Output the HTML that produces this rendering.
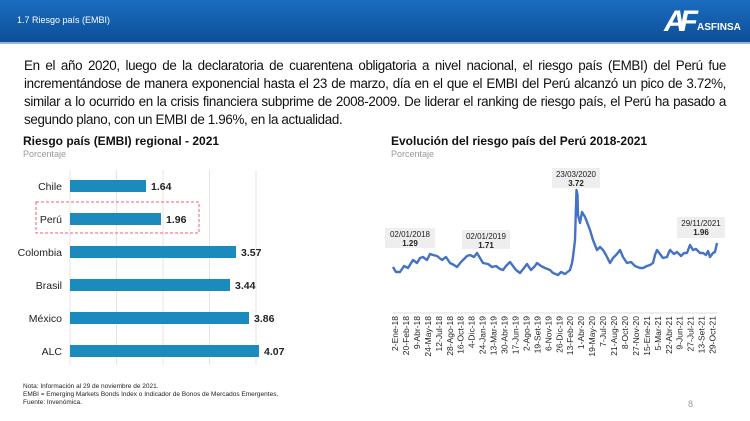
<!DOCTYPE html>
<html><head><meta charset="utf-8"><style>
body{margin:0;width:750px;height:421px;background:#fff;font-family:"Liberation Sans",sans-serif;position:relative;overflow:hidden}
.hdr{position:absolute;left:0;top:0;width:750px;height:42px;background:linear-gradient(#1a6cc0,#0d4f98);border-bottom:2px solid #9ab6d6}
.l{position:absolute;left:24px;width:702px;font-size:13.4px;letter-spacing:-0.35px;color:#111;text-align:justify;text-align-last:justify;white-space:nowrap}
.l.last{text-align-last:left}
</style></head><body>
<div class="hdr"></div>
<div style="position:absolute;left:17px;top:15px;font-size:9px;color:#fff">1.7 Riesgo país (EMBI)</div>
<div style="position:absolute;left:664px;top:5px;font-size:30px;font-weight:bold;color:#fff;letter-spacing:-6px;font-style:italic">AF</div>
<div style="position:absolute;left:697px;top:22px;font-size:10px;font-weight:bold;color:#fff">ASFINSA</div>
<div class="l" style="top:58px">En el año 2020, luego de la declaratoria de cuarentena obligatoria a nivel nacional, el riesgo país (EMBI) del Perú fue</div>
<div class="l" style="top:76px">incrementándose de manera exponencial hasta el 23 de marzo, día en el que el EMBI del Perú alcanzó un pico de 3.72%,</div>
<div class="l" style="top:94px">similar a lo ocurrido en la crisis financiera subprime de 2008-2009. De liderar el ranking de riesgo país, el Perú ha pasado a</div>
<div class="l last" style="top:112px">segundo plano, con un EMBI de 1.96%, en la actualidad.</div>
<svg width="750" height="421" style="position:absolute;left:0;top:0" font-family="Liberation Sans, sans-serif">
<text x="23" y="145" font-size="12" font-weight="bold" fill="#111">Riesgo país (EMBI) regional - 2021</text>
<text x="23" y="157" font-size="9" fill="#999">Porcentaje</text>
<g stroke="#e4e4e4" stroke-width="1">
<line x1="70" y1="170" x2="70" y2="365"/><line x1="116.5" y1="170" x2="116.5" y2="365"/><line x1="163" y1="170" x2="163" y2="365"/><line x1="209.5" y1="170" x2="209.5" y2="365"/><line x1="256" y1="170" x2="256" y2="365"/></g>
<rect x="36" y="202" width="163" height="31" fill="none" stroke="#f06070" stroke-dasharray="3,2"/>
<g fill="#1b8bbd">
<rect x="70" y="180" width="76" height="12"/><rect x="70" y="213" width="91" height="12"/><rect x="70" y="246" width="166" height="12"/><rect x="70" y="279" width="160" height="12"/><rect x="70" y="312" width="179" height="12"/><rect x="70" y="345" width="189" height="12"/></g>
<g font-size="10.5" fill="#222" text-anchor="end">
<text x="62" y="190">Chile</text><text x="62" y="223">Perú</text><text x="62" y="256">Colombia</text><text x="62" y="289">Brasil</text><text x="62" y="322">México</text><text x="62" y="355">ALC</text></g>
<g font-size="10.5" fill="#222" font-weight="bold">
<text x="151" y="190">1.64</text><text x="166" y="223">1.96</text><text x="241" y="256">3.57</text><text x="235" y="289">3.44</text><text x="254" y="322">3.86</text><text x="264" y="355">4.07</text></g>

<text x="391" y="145" font-size="12" font-weight="bold" fill="#111">Evolución del riesgo país del Perú 2018-2021</text>
<text x="391" y="157" font-size="9" fill="#999">Porcentaje</text>
<g fill="#eee"><rect x="385" y="228" width="50" height="20"/><rect x="462" y="230" width="48" height="19"/><rect x="552" y="168" width="48" height="20"/><rect x="677" y="217" width="48" height="21"/></g>
<g font-size="8" fill="#222" text-anchor="middle">
<text x="410" y="237">02/01/2018</text><text x="486" y="239">02/01/2019</text><text x="576" y="177">23/03/2020</text><text x="701" y="226">29/11/2021</text></g>
<g font-size="8" fill="#222" text-anchor="middle" font-weight="bold">
<text x="410" y="246">1.29</text><text x="486" y="248">1.71</text><text x="576" y="186">3.72</text><text x="701" y="235">1.96</text></g>
<polyline fill="none" stroke="#4472c4" stroke-width="2.4" stroke-linejoin="round" points="393,267 396,272 400,272 404,266 408,268 413,260 417,263 420,258 423,257 427,260 430,254 433,255 437,256 442,260 446,257 450,263 454,265 457,267 461,262 464,259 467,256 470,255 474,257 477,253 480,258 483,263 488,264 492,267 496,266 500,269 503,270 506,266 510,262 513,266 516,270 520,273 524,268 527,264 531,270 535,266 537,263 541,266 545,268 550,270 553,273 558,275 561,272 565,274 570,270 572,263 573,257 575,240 576.5,190 577.5,195 578,215 580,223 582,212 585,217 587,222 590,230 593,240 597,250 600,247 603,250 606,255 610,263 613,258 617,254 620,250 623,257 627,263 631,262 635,266 640,268 643,268 647,266 650,265 653,263 655,255 657,250 660,254 663,258 667,257 669,252 670,250 674,254 677,252 681,256 684,253 687,253 690,245 693,250 696,249 700,253 703,253 706,255 708,251 710,257 713,253 715,252 717,243"/>
<line x1="393" y1="313" x2="717" y2="313" stroke="#ddd"/>
<g font-size="8.5" fill="#222" text-anchor="end" id="xl"></g>
<g font-size="6.5" fill="#222"><text x="23" y="388">Nota: Información al 29 de noviembre de 2021.</text><text x="23" y="396">EMBI = Emerging Markets Bonds Index o Indicador de Bonos de Mercados Emergentes.</text><text x="23" y="404">Fuente: Invenómica.</text></g>
<text x="688" y="407" font-size="9" fill="#999">8</text>
</svg>
<script>
var L="2-Ene-18,20-Feb-18,9-Abr-18,24-May-18,12-Jul-18,28-Ago-18,16-Oct-18,4-Dic-18,24-Jan-19,13-Mar-19,30-Abr-19,17-Jun-19,2-Ago-19,19-Set-19,6-Nov-19,26-Dic-19,13-Feb-20,1-Abr-20,19-May-20,7-Jul-20,21-Aug-20,8-Oct-20,27-Nov-20,15-Ene-21,5-Mar-21,22-Abr-21,9-Jun-21,27-Jul-21,13-Set-21,29-Oct-21".split(",");
var g=document.getElementById("xl"),s="";
for(var i=0;i<L.length;i++){var x=398+i*10.95;s+='<text transform="translate('+x+',316) rotate(-90)">'+L[i]+'</text>';}
g.innerHTML=s;
</script>
</body></html>
